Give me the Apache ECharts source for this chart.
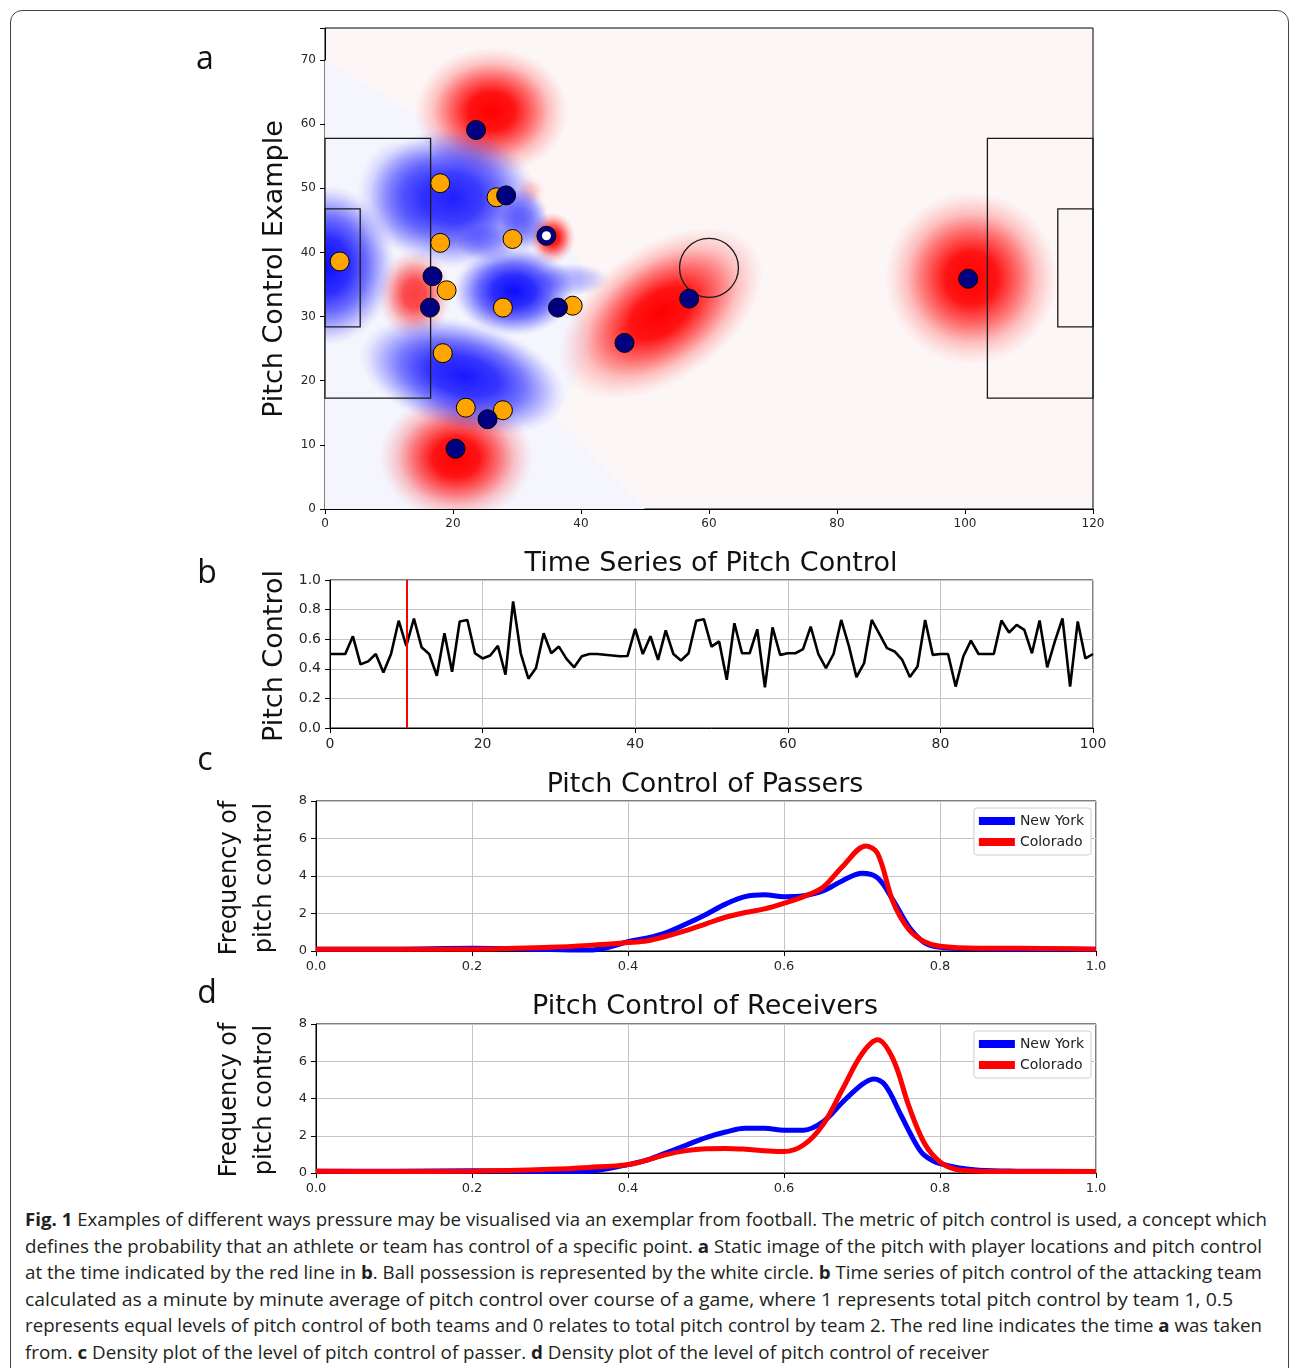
<!DOCTYPE html>
<html><head><meta charset="utf-8">
<script src="https://cdn.jsdelivr.net/npm/echarts/dist/echarts.min.js"></script>
<style>
html,body{margin:0;padding:0;background:#fff;}
#wrap{position:relative;width:1290px;height:1368px;overflow:hidden;background:#fff;}
#frame{position:absolute;left:10px;top:10px;width:1279px;height:1420px;border:1px solid #444;border-radius:12px;box-sizing:border-box;}
#chart{position:absolute;left:0;top:0;width:1290px;height:1200px;}
#caption{position:absolute;left:25px;top:0;font-family:'Open Sans','Noto Sans',sans-serif;font-size:18.5px;color:#231f20;}
.ln{position:absolute;left:0;white-space:nowrap;transform-origin:0 50%;line-height:26px;}
.ln b{font-weight:700;}
</style></head>
<body>
<div id="wrap">
<div id="frame"></div>
<div id="chart"></div>
<div id="caption"></div>
</div>
<script>
// ---------- Panel a: player positions ----------
const navyX = [23.6, 28.3, 34.6, 16.8, 16.4, 36.4, 46.8, 25.4, 20.4, 56.9, 100.5];
const navyY = [59.1, 48.9, 42.6, 36.3, 31.4, 31.4, 25.9, 14.0, 9.4, 32.8, 35.9];
const orangeX = [2.3, 18.0, 26.8, 18.0, 29.3, 19.0, 27.8, 38.7, 18.4, 22.0, 27.8];
const orangeY = [38.6, 50.8, 48.6, 41.5, 42.1, 34.1, 31.4, 31.7, 24.3, 15.8, 15.4];
const ballX = [34.6];
const ballY = [42.6];

// pitch-control zones (estimated): centre, radii, tilt (deg), level (+ red team / - blue team)
const zoneX     = [26.0, 20.5, 14.0, 35.5, 32.0, 52.5, 101.0, 0.0, 20.0, 12.0, 29.5, 21.5, 38.5, 31.0, 25.5];
const zoneY     = [62.0,  8.0, 33.5, 42.3, 49.5, 30.5,  36.0, 38.0, 48.5, 49.0, 34.0, 20.8, 35.8, 45.0, 41.5];
const zoneRx    = [12.0, 12.0,  5.8,  3.6,  2.4, 18.0,  13.5, 11.0, 13.0,  7.0,  9.5, 16.5,  6.0,  4.0,  5.0];
const zoneRy    = [10.0, 10.0,  7.0,  4.0,  2.4, 10.5,  13.5, 12.5, 11.0,  9.0,  7.0,  8.5,  2.6,  5.0,  3.0];
const zoneTilt  = [  0,    0,    0,    0,    0,   35,     0,    0,    0,    0,    0,  -15,    0,    0,    0];
const zoneLevel = [ 1.0,  1.0, 0.75, 0.95, 0.2,  1.0,   1.0, -1.0, -0.92, -0.35, -1.0, -0.95, -0.3, -0.6, -0.35];

// faint blue background region
const wedgeX = [0, 30, 40, 41, 36, 50, 0];
const wedgeY = [70, 52, 38, 24, 14, 0, 0];

// pitch markings
const boxX0 = [0, 0, 103.5, 114.5];
const boxX1 = [16.5, 5.5, 120, 120];
const boxY0 = [17.3, 28.4, 17.3, 28.4];
const boxY1 = [57.8, 46.8, 57.8, 46.8];
const circleC = [60, 37.6];
const circleR = [4.6];

// ---------- Panel b: time series ----------
const tsValues = [0.5,0.5,0.5,0.62,0.43,0.45,0.5,0.375,0.5,0.725,
0.555,0.74,0.546,0.5,0.353,0.64,0.38,0.72,0.73,0.505,
0.47,0.49,0.555,0.36,0.855,0.505,0.333,0.405,0.64,0.505,
0.55,0.467,0.41,0.485,0.5,0.5,0.495,0.49,0.485,0.487,
0.67,0.5,0.62,0.46,0.66,0.5,0.456,0.505,0.725,0.735,
0.55,0.585,0.326,0.708,0.505,0.505,0.667,0.274,0.68,0.494,
0.505,0.505,0.533,0.685,0.5,0.405,0.5,0.73,0.555,0.344,
0.438,0.73,0.636,0.54,0.517,0.46,0.344,0.416,0.73,0.494,
0.5,0.5,0.28,0.483,0.59,0.5,0.5,0.5,0.726,0.645,
0.697,0.663,0.505,0.726,0.41,0.585,0.74,0.28,0.72,0.47,0.5];
const snapshotMinute = 10;

// ---------- Panels c, d: densities ----------
const passNYx = [0,0.1,0.2,0.3,0.35,0.375,0.4,0.425,0.45,0.475,0.5,0.525,0.55,0.575,0.6,0.625,0.65,0.675,0.7,0.72,0.74,0.76,0.78,0.8,0.85,0.9,1.0];
const passNYy = [0.1,0.1,0.15,0.08,0.05,0.2,0.5,0.7,1.0,1.45,1.95,2.5,2.9,3.0,2.9,2.95,3.2,3.75,4.15,3.9,2.7,1.3,0.45,0.2,0.12,0.1,0.1];
const passCOx = [0,0.1,0.2,0.3,0.35,0.4,0.425,0.45,0.475,0.5,0.525,0.55,0.575,0.6,0.625,0.65,0.675,0.705,0.72,0.74,0.76,0.78,0.8,0.85,0.9,1.0];
const passCOy = [0.1,0.1,0.1,0.2,0.3,0.45,0.55,0.8,1.1,1.45,1.8,2.05,2.25,2.55,2.9,3.4,4.5,5.6,5.2,2.6,1.15,0.5,0.25,0.15,0.15,0.1];
const recNYx = [0,0.1,0.2,0.3,0.35,0.4,0.425,0.45,0.475,0.5,0.525,0.55,0.575,0.6,0.625,0.65,0.675,0.7,0.715,0.73,0.75,0.77,0.78,0.8,0.85,0.9,1.0];
const recNYy = [0.1,0.1,0.12,0.08,0.1,0.45,0.7,1.1,1.5,1.9,2.2,2.4,2.4,2.3,2.3,2.75,3.8,4.75,5.05,4.7,3.1,1.5,0.95,0.5,0.15,0.1,0.08];
const recCOx = [0,0.1,0.2,0.3,0.35,0.4,0.425,0.45,0.475,0.5,0.525,0.55,0.575,0.6,0.625,0.65,0.675,0.7,0.72,0.74,0.76,0.78,0.8,0.82,0.85,0.9,1.0];
const recCOy = [0.1,0.08,0.1,0.2,0.3,0.45,0.7,1.0,1.2,1.3,1.32,1.28,1.2,1.15,1.5,2.6,4.5,6.4,7.15,6.1,3.6,1.6,0.6,0.2,0.1,0.08,0.08];

const seriesNames = ['New York', 'Colorado'];
const captionLines = [
 '<b>Fig. 1</b> Examples of different ways pressure may be visualised via an exemplar from football. The metric of pitch control is used, a concept which',
 'defines the probability that an athlete or team has control of a specific point. <b>a</b> Static image of the pitch with player locations and pitch control',
 'at the time indicated by the red line in <b>b</b>. Ball possession is represented by the white circle. <b>b</b> Time series of pitch control of the attacking team',
 'calculated as a minute by minute average of pitch control over course of a game, where 1 represents total pitch control by team 1, 0.5',
 'represents equal levels of pitch control of both teams and 0 relates to total pitch control by team 2. The red line indicates the time <b>a</b> was taken',
 'from. <b>c</b> Density plot of the level of pitch control of passer. <b>d</b> Density plot of the level of pitch control of receiver'
];
const captionWidths = [1242, 1237, 1237, 1208, 1237, 964];

// ---------- build ----------
const zip = (a, b) => a.map((v, i) => [v, b[i]]);
const FONT = 'DejaVu Sans';
const grids = [
  {left: 325, top: 28, width: 768, height: 481, show: true, borderColor: '#000', borderWidth: 1, backgroundColor: '#fdf6f6'},
  {left: 330, top: 580, width: 763, height: 148, show: true, borderColor: '#000', borderWidth: 1},
  {left: 316, top: 801, width: 780, height: 150, show: true, borderColor: '#000', borderWidth: 1},
  {left: 316, top: 1024, width: 780, height: 149, show: true, borderColor: '#000', borderWidth: 1}
];
function ax(gi, min, max, interval, fs, grid, fmt, margin) {
  return {
    gridIndex: gi, type: 'value', min: min, max: max, interval: interval,
    axisLine: {show: true, onZero: false, lineStyle: {color: '#000', width: 1}},
    axisTick: {show: true, inside: false, length: 5, lineStyle: {color: '#000'}},
    axisLabel: {fontSize: fs, fontFamily: FONT, color: '#262626', margin: margin || 9, formatter: fmt},
    splitLine: {show: grid, lineStyle: {color: '#c4c4c4', width: 1}}
  };
}
const xAxes = [
  ax(0, 0, 120, 20, 12, false, v => String(v)),
  ax(1, 0, 100, 20, 14, true, v => String(v)),
  ax(2, 0, 1, 0.2, 13, true, v => v.toFixed(1)),
  ax(3, 0, 1, 0.2, 13, true, v => v.toFixed(1))
];
const yAxes = [
  ax(0, 0, 75, 10, 12, false, v => (v % 10 === 0 ? String(v) : '')),
  ax(1, 0, 1, 0.2, 14, true, v => v.toFixed(1)),
  ax(2, 0, 8, 2, 13, true, v => String(v)),
  ax(3, 0, 8, 2, 13, true, v => String(v))
];

function zoneRender(params, api) {
  const c = api.coord([api.value(0), api.value(1)]);
  const s = api.size([api.value(2), api.value(3)]);
  const tilt = api.value(4) * Math.PI / 180;
  const lvl = api.value(5);
  const rgb = lvl > 0 ? '255,0,0' : '0,0,255';
  const a = Math.abs(lvl);
  const st = (o, f) => ({offset: o, color: 'rgba(' + rgb + ',' + (a * f).toFixed(3) + ')'});
  return {
    type: 'circle', x: c[0], y: c[1], rotation: tilt, scaleX: s[0], scaleY: s[1],
    shape: {cx: 0, cy: 0, r: 1},
    style: {fill: {type: 'radial', x: 0.5, y: 0.5, r: 0.5, colorStops: lvl > 0 ? [
      st(0, 1), st(0.3, 0.92), st(0.55, 0.55), st(0.75, 0.22), st(0.9, 0.07), st(1, 0)] : [
      st(0, 0.95), st(0.35, 0.82), st(0.6, 0.55), st(0.8, 0.24), st(0.92, 0.07), st(1, 0)]}}
  };
}

const series = [
  {type: 'custom', xAxisIndex: 0, yAxisIndex: 0, clip: true, silent: true, data: [0],
   renderItem: (p, api) => ({type: 'polygon', shape: {points: wedgeX.map((x, i) => api.coord([x, wedgeY[i]]))},
     style: {fill: '#f5f5fe'}})},
  {type: 'custom', xAxisIndex: 0, yAxisIndex: 0, clip: true, silent: true,
   data: zoneX.map((x, i) => [x, zoneY[i], zoneRx[i], zoneRy[i], zoneTilt[i], zoneLevel[i]]),
   renderItem: zoneRender},
  {type: 'custom', xAxisIndex: 0, yAxisIndex: 0, silent: true,
   data: boxX0.map((x, i) => [x, boxY0[i], boxX1[i], boxY1[i]]),
   renderItem: (p, api) => {
     const a = api.coord([api.value(0), api.value(3)]);
     const b = api.coord([api.value(2), api.value(1)]);
     return {type: 'rect', shape: {x: a[0], y: a[1], width: b[0] - a[0], height: b[1] - a[1]},
       style: {fill: 'none', stroke: '#1a1a1a', lineWidth: 1.3}};
   }},
  {type: 'custom', xAxisIndex: 0, yAxisIndex: 0, silent: true,
   data: [[circleC[0], circleC[1], circleR[0]]],
   renderItem: (p, api) => {
     const c = api.coord([api.value(0), api.value(1)]);
     const s = api.size([api.value(2), api.value(2)]);
     return {type: 'circle', shape: {cx: c[0], cy: c[1], r: s[0]},
       style: {fill: 'none', stroke: '#1a1a1a', lineWidth: 1.3}};
   }},
  {type: 'scatter', xAxisIndex: 0, yAxisIndex: 0, data: zip(orangeX, orangeY), symbolSize: 19,
   itemStyle: {color: '#ffa500', borderColor: '#000', borderWidth: 1, opacity: 1}},
  {type: 'scatter', xAxisIndex: 0, yAxisIndex: 0, data: zip(navyX, navyY), symbolSize: 19,
   itemStyle: {color: '#000080', borderColor: '#000', borderWidth: 1, opacity: 1}},
  {type: 'scatter', xAxisIndex: 0, yAxisIndex: 0, data: zip(ballX, ballY), symbolSize: 9,
   itemStyle: {color: '#ffffff', opacity: 1}},
  {type: 'line', xAxisIndex: 1, yAxisIndex: 1, data: tsValues.map((v, i) => [i, v]),
   showSymbol: false, symbol: 'none', lineStyle: {color: '#000', width: 2.6}, z: 3,
   markLine: {silent: true, symbol: 'none', label: {show: false},
     lineStyle: {color: '#ff0000', width: 2, type: 'solid'}, data: [{xAxis: snapshotMinute}]}},
  {name: seriesNames[0], type: 'line', xAxisIndex: 2, yAxisIndex: 2, data: zip(passNYx, passNYy), smooth: 0.35,
   symbol: 'none', lineStyle: {color: '#0000ff', width: 5}, itemStyle: {color: '#0000ff'}},
  {name: seriesNames[1], type: 'line', xAxisIndex: 2, yAxisIndex: 2, data: zip(passCOx, passCOy), smooth: 0.35,
   symbol: 'none', lineStyle: {color: '#ff0000', width: 5}, itemStyle: {color: '#ff0000'}},
  {name: seriesNames[0], type: 'line', xAxisIndex: 3, yAxisIndex: 3, data: zip(recNYx, recNYy), smooth: 0.35,
   symbol: 'none', lineStyle: {color: '#0000ff', width: 5}, itemStyle: {color: '#0000ff'}},
  {name: seriesNames[1], type: 'line', xAxisIndex: 3, yAxisIndex: 3, data: zip(recCOx, recCOy), smooth: 0.35,
   symbol: 'none', lineStyle: {color: '#ff0000', width: 5}, itemStyle: {color: '#ff0000'}}
];

function leg(top) {
  return {data: seriesNames, orient: 'vertical', right: 199, top: top, icon: 'rect',
    itemWidth: 36, itemHeight: 8, itemGap: 7, padding: [6, 7, 6, 5],
    backgroundColor: '#fff', borderColor: '#cfcfcf', borderWidth: 1, borderRadius: 3,
    textStyle: {fontFamily: FONT, fontSize: 14, color: '#222'}, selectedMode: false};
}

const txt = (x, y, s, fs, extra) => Object.assign({type: 'text', x: x, y: y, z: 100,
  style: {text: s, fontSize: fs, fontFamily: FONT, fill: '#111', align: 'center', verticalAlign: 'middle'}}, extra || {});
const letter = (x, y, s) => ({type: 'text', x: x, y: y, z: 100,
  style: {text: s, fontSize: 32, fontFamily: 'Open Sans', fill: '#111', align: 'center', verticalAlign: 'middle'}});
const rot = Math.PI / 2;
const graphics = [
  letter(205, 60, 'a'), letter(207, 574, 'b'), letter(205, 761, 'c'), letter(207, 994, 'd'),
  txt(275, 269, 'Pitch Control Example', 27, {rotation: rot}),
  txt(275, 656, 'Pitch Control', 27, {rotation: rot}),
  txt(711, 564, 'Time Series of Pitch Control', 27),
  txt(705, 785, 'Pitch Control of Passers', 27),
  txt(705, 1007, 'Pitch Control of Receivers', 27),
  txt(230, 878, 'Frequency of', 24, {rotation: rot}),
  txt(265, 878, 'pitch control', 24, {rotation: rot}),
  txt(230, 1100, 'Frequency of', 24, {rotation: rot}),
  txt(265, 1100, 'pitch control', 24, {rotation: rot})
];

const chart = echarts.init(document.getElementById('chart'));
chart.setOption({
  animation: false,
  grid: grids, xAxis: xAxes, yAxis: yAxes, series: series,
  legend: [leg(808), leg(1031)],
  graphic: graphics
});

// caption
const cap = document.getElementById('caption');
captionLines.forEach((h, i) => {
  const d = document.createElement('div');
  d.className = 'ln';
  d.style.top = (1206 + i * 26.6) + 'px';
  d.innerHTML = h;
  cap.appendChild(d);
});
function fitCaption() {
  Array.from(cap.children).forEach((d, i) => {
    d.style.transform = 'none';
    const w = d.getBoundingClientRect().width;
    if (w > 0) d.style.transform = 'scaleX(' + (captionWidths[i] / w).toFixed(4) + ')';
  });
}
fitCaption();
if (document.fonts && document.fonts.ready) document.fonts.ready.then(fitCaption);
</script>
</body></html>
